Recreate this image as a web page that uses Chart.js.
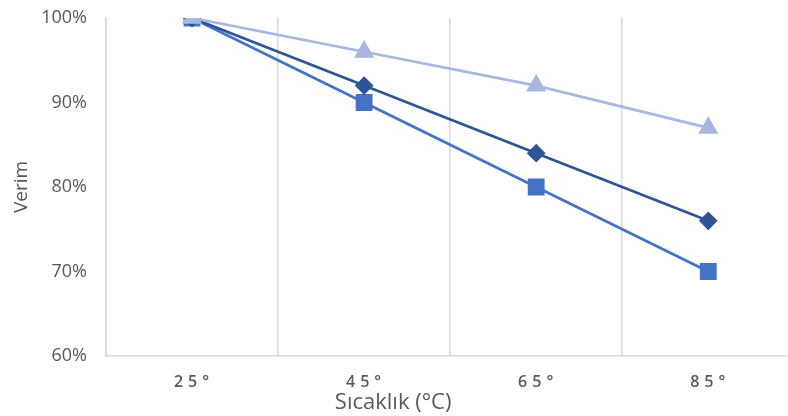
<!DOCTYPE html>
<html>
<head>
<meta charset="utf-8">
<script src="https://cdn.jsdelivr.net/npm/chart.js@4/dist/chart.umd.min.js"></script>
<style>
  html, body { margin: 0; padding: 0; background: #fff; overflow: hidden; }
  canvas { display: block; }
</style>
</head>
<body>
<canvas id="chart" width="807" height="416"></canvas>
<script>
// Temperature categories and efficiency (%) for three panel types
const temperatures = ['25°', '45°', '65°', '85°'];
const seriesDiamond = [100, 92, 84, 76];
const seriesSquare = [100, 90, 80, 70];
const seriesTriangle = [100, 96, 92, 87];
const yTicks = [60, 70, 80, 90, 100];

const axisGrey = '#d9d9d9';
const textGrey = '#595959';
const fontFamily = '"Open Sans", "DejaVu Sans", sans-serif';

// Category axis with letter-spaced tick labels and a title shifted left
class SpacedCategoryScale extends Chart.CategoryScale {
  drawLabels(area) {
    const ctx = this.ctx;
    ctx.save();
    ctx.letterSpacing = '5px';
    ctx.translate(2, 0);
    super.drawLabels(area);
    ctx.restore();
  }
  drawTitle() {
    const ctx = this.ctx;
    ctx.save();
    ctx.translate(-57, 0);
    super.drawTitle();
    ctx.restore();
  }
}
SpacedCategoryScale.id = 'spacedCategory';
SpacedCategoryScale.defaults = Chart.CategoryScale.defaults;
Chart.register(SpacedCategoryScale);

new Chart(document.getElementById('chart'), {
  type: 'line',
  data: {
    labels: temperatures,
    datasets: [
      {
        label: 'Seri 3',
        data: seriesTriangle,
        borderColor: '#a6b7e0',
        backgroundColor: '#a6b7e0',
        pointStyle: 'triangle',
        pointRadius: 9,
        borderWidth: 2.7
      },
      {
        label: 'Seri 1',
        data: seriesDiamond,
        borderColor: '#2f5597',
        backgroundColor: '#2f5597',
        pointStyle: 'rectRot',
        pointRadius: 7.5,
        borderWidth: 2.7
      },
      {
        label: 'Seri 2',
        data: seriesSquare,
        borderColor: '#4472c4',
        backgroundColor: '#4472c4',
        pointStyle: 'rect',
        pointRadius: 10,
        borderWidth: 2.7
      }
    ]
  },
  options: {
    responsive: false,
    animation: false,
    layout: { padding: { top: 18, right: 0, bottom: 0, left: 0 } },
    plugins: {
      legend: { display: false },
      tooltip: { enabled: false }
    },
    elements: {
      line: { tension: 0 },
      point: { borderWidth: 0 }
    },
    scales: {
      x: {
        type: 'spacedCategory',
        offset: true,
        grid: {
          display: true,
          offset: true,
          color: axisGrey,
          lineWidth: 1.5,
          drawTicks: false
        },
        border: { display: true, color: axisGrey, width: 1.5 },
        ticks: {
          color: textGrey,
          font: { family: fontFamily, size: 16, weight: '600' },
          padding: 17
        },
        title: {
          display: true,
          text: 'Sıcaklık (°C)',
          color: textGrey,
          font: { family: fontFamily, size: 22 },
          padding: { top: 0, bottom: 0 }
        },
        afterFit(scale) {
          scale.height = 60;
          scale.paddingLeft = 0;
          scale.paddingRight = 0;
        }
      },
      y: {
        min: 60,
        max: 100,
        afterBuildTicks(scale) { scale.ticks = yTicks.map(v => ({ value: v })); },
        grid: { display: false, drawTicks: false },
        border: { display: true, color: axisGrey, width: 1.5 },
        ticks: {
          color: textGrey,
          font: { family: fontFamily, size: 18 },
          padding: 19,
          callback: v => v + '%'
        },
        title: {
          display: true,
          text: 'Verim',
          color: textGrey,
          font: { family: fontFamily, size: 19 },
          padding: { top: 10, bottom: 0 }
        },
        afterFit(scale) {
          scale.width = 106;
          scale.paddingTop = 0;
          scale.paddingBottom = 0;
        }
      }
    }
  }
});
</script>
</body>
</html>
